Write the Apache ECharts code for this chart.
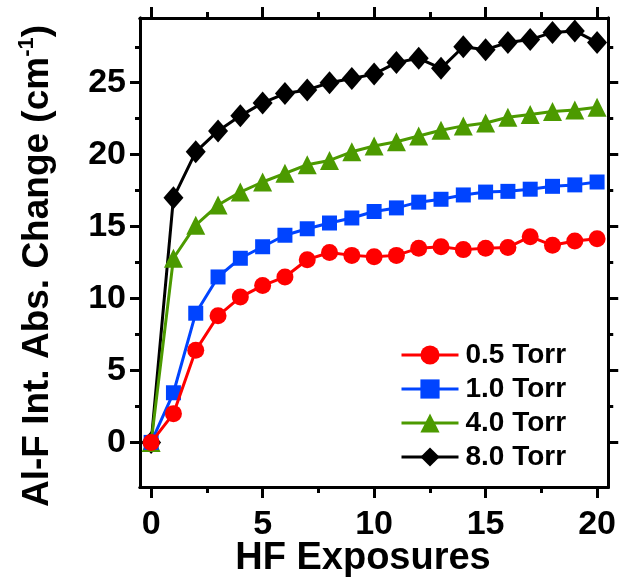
<!DOCTYPE html>
<html>
<head>
<meta charset="utf-8">
<script src="https://cdn.jsdelivr.net/npm/echarts@6/dist/echarts.min.js"></script>
<style>html,body{margin:0;padding:0;background:#fff}#c{width:619px;height:586px}</style>
</head>
<body>
<div id="c"></div>
<script>
const exposures = [0,1,2,3,4,5,6,7,8,9,10,11,12,13,14,15,16,17,18,19,20];
const torr05 = [0, 2.0, 6.4, 8.8, 10.1, 10.9, 11.5, 12.7, 13.2, 13.0, 12.9, 13.0, 13.5, 13.6, 13.4, 13.5, 13.55, 14.3, 13.7, 14.0, 14.15];
const torr10 = [0, 3.45, 8.98, 11.5, 12.8, 13.6, 14.4, 14.85, 15.25, 15.6, 16.05, 16.3, 16.7, 16.9, 17.2, 17.4, 17.45, 17.6, 17.8, 17.9, 18.1];
const torr40 = [0, 12.8, 15.1, 16.5, 17.4, 18.1, 18.7, 19.3, 19.6, 20.2, 20.6, 20.9, 21.3, 21.7, 22.0, 22.2, 22.6, 22.8, 23.0, 23.1, 23.3];
const torr80 = [0, 17.0, 20.2, 21.65, 22.7, 23.6, 24.25, 24.5, 25.0, 25.3, 25.6, 26.4, 26.7, 26.0, 27.5, 27.3, 27.8, 28.0, 28.5, 28.6, 27.8];
const seriesNames = ['0.5 Torr', '1.0 Torr', '4.0 Torr', '8.0 Torr'];
const xMajor = [0, 5, 10, 15, 20];
const xMinor = [2.5, 7.5, 12.5, 17.5];
const yMajor = [0, 5, 10, 15, 20, 25];
const yMinor = [2.5, 7.5, 12.5, 17.5, 22.5, 27.5];

const FONT = '"Liberation Sans", Arial, Helvetica, sans-serif';
const XMIN = -0.5, XMAX = 20.5, YMIN = -3.1, YMAX = 29.5;

function pairs(vals) { return exposures.map((x, i) => [x, vals[i]]); }

function xAxisDef(pos, ticks, len, labels) {
  return {
    type: 'value', min: XMIN, max: XMAX, position: pos,
    axisLine: { show: true, onZero: false, lineStyle: { color: '#000', width: 3 } },
    axisTick: { show: true, customValues: ticks, length: len, inside: false, lineStyle: { color: '#000', width: 3 } },
    axisLabel: labels ? { show: true, customValues: ticks, fontSize: 34, fontWeight: 'bold', color: '#000', fontFamily: FONT, margin: 21 } : { show: false },
    splitLine: { show: false }, minorTick: { show: false }
  };
}
function yAxisDef(pos, ticks, len, labels) {
  return {
    type: 'value', min: YMIN, max: YMAX, position: pos,
    axisLine: { show: true, onZero: false, lineStyle: { color: '#000', width: 3 } },
    axisTick: { show: true, customValues: ticks, length: len, inside: false, lineStyle: { color: '#000', width: 3 } },
    axisLabel: labels ? { show: true, customValues: ticks, fontSize: 34, fontWeight: 'bold', color: '#000', fontFamily: FONT, margin: 14 } : { show: false },
    splitLine: { show: false }, minorTick: { show: false }
  };
}

function lineSeries(name, vals, color, symbol, size, z) {
  return {
    name: name, type: 'line', xAxisIndex: 0, yAxisIndex: 0,
    data: pairs(vals), symbol: symbol, symbolSize: size, z: z,
    showAllSymbol: true,
    lineStyle: { color: color, width: 3 },
    itemStyle: { color: color, borderWidth: 0 },
    emphasis: { disabled: true }
  };
}

const chart = echarts.init(document.getElementById('c'), null, { renderer: 'canvas' });
chart.setOption({
  animation: false,
  backgroundColor: '#fff',
  grid: { left: 140, right: 9, top: 18, bottom: 99, containLabel: false },
  xAxis: [
    xAxisDef('bottom', xMajor, 11, true),
    xAxisDef('bottom', xMinor, 6, false),
    xAxisDef('top', xMajor, 11, false),
    xAxisDef('top', xMinor, 6, false)
  ],
  yAxis: [
    yAxisDef('left', yMajor, 10, true),
    yAxisDef('left', yMinor, 5, false),
    yAxisDef('right', yMajor, 10, false),
    yAxisDef('right', yMinor, 5, false)
  ],
  legend: {
    orient: 'vertical', left: 395, top: 336, itemWidth: 57, itemHeight: 24, itemGap: 6,
    selectedMode: false,
    data: seriesNames,
    lineStyle: { width: 3 },
    textStyle: { fontSize: 28, fontWeight: 'bold', color: '#000', fontFamily: FONT, padding: [0, 0, 0, 2] }
  },
  graphic: [
    {
      type: 'text', x: 363, y: 559,
      style: { text: 'HF Exposures', font: 'bold 38px ' + FONT, fill: '#000', align: 'center', verticalAlign: 'middle', textAlign: 'center', textVerticalAlign: 'middle' }
    },
    {
      type: 'text', x: 36, y: 266, rotation: Math.PI / 2,
      style: {
        text: '{a|Al-F Int. Abs. Change (cm}{s|-1}{a|)}',
        align: 'center', verticalAlign: 'middle', textAlign: 'center', textVerticalAlign: 'middle',
        rich: {
          a: { font: 'bold 37px ' + FONT, fill: '#000', lineHeight: 40, verticalAlign: 'bottom' },
          s: { font: 'bold 22px ' + FONT, fill: '#000', lineHeight: 22, verticalAlign: 'top' }
        }
      }
    }
  ],
  series: [
    lineSeries(seriesNames[0], torr05, '#FF0000', 'circle', 17, 5),
    lineSeries(seriesNames[1], torr10, '#0044FF', 'rect', 15, 4),
    lineSeries(seriesNames[2], torr40, '#4C9A00', 'triangle', 19, 3),
    lineSeries(seriesNames[3], torr80, '#000000', 'diamond', [20, 23], 2)
  ]
});
</script>
</body>
</html>
